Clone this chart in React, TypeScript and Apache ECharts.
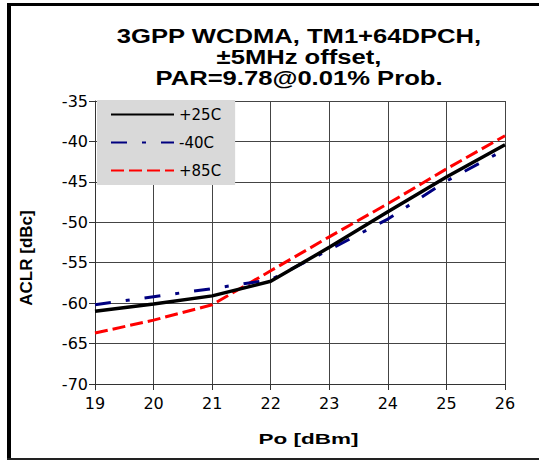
import React, { useEffect, useRef } from "react";
import * as echarts from "echarts";

const xValues = [19, 20, 21, 22, 23, 24, 25, 26];
const p25C = [-61.0, -60.1, -59.1, -57.3, -53.1, -48.7, -44.4, -40.4];
const m40C = [-60.2, -59.2, -58.2, -57.1, -53.4, -49.6, -44.9, -41.0];
const p85C = [-63.7, -62.1, -60.2, -56.0, -51.8, -47.7, -43.4, -39.3];
const seriesNames = ["+25C", "-40C", "+85C"];
const titleLines = ["3GPP WCDMA, TM1+64DPCH,", "±5MHz offset,", "PAR=9.78@0.01% Prob."];
const xAxisTitle = "Po [dBm]";
const yAxisTitle = "ACLR [dBc]";

const FONT = "'Liberation Sans', Arial, Helvetica, sans-serif";
const WIDE = "'DejaVu Sans', 'Liberation Sans', sans-serif";

export default function App() {
  const ref = useRef<HTMLDivElement>(null);
  useEffect(() => {
    document.body.style.margin = "0";
    const chart = echarts.init(ref.current!, null, { renderer: "svg" });
    const pairs = (ys: number[]) => xValues.map((x, i) => [x, ys[i]]);
    chart.setOption({
      animation: false,
      backgroundColor: "#ffffff",
      textStyle: { fontFamily: FONT },
      legend: {
        orient: "vertical",
        left: 97,
        top: 100,
        padding: [7, 14, 7, 13],
        itemGap: 13,
        itemWidth: 63,
        itemHeight: 14,
        backgroundColor: "#d9d9d9",
        borderRadius: 0,
        itemStyle: { opacity: 0 },
        textStyle: { fontFamily: WIDE, fontSize: 15, color: "#000" },
        data: seriesNames,
      },
      grid: { left: 95, top: 101, width: 410, height: 283, containLabel: false },
      xAxis: {
        type: "value",
        min: 19,
        max: 26,
        interval: 1,
        axisLine: { show: true, lineStyle: { color: "#333", width: 1 } },
        axisTick: { show: true, length: 6, lineStyle: { color: "#333" } },
        axisLabel: { fontFamily: WIDE, fontSize: 16, color: "#000", margin: 11 },
        splitLine: { show: true, lineStyle: { color: "#444", width: 1 } },
      },
      yAxis: {
        type: "value",
        min: -70,
        max: -35,
        interval: 5,
        axisLine: { show: true, lineStyle: { color: "#333", width: 1 } },
        axisTick: { show: true, length: 6, lineStyle: { color: "#333" } },
        axisLabel: { fontFamily: WIDE, fontSize: 16, color: "#000", margin: 7 },
        splitLine: { show: true, lineStyle: { color: "#444", width: 1 } },
      },
      graphic: [
        { type: "rect", shape: { x: 7, y: 3, width: 532, height: 3 }, style: { fill: "#000" } },
        { type: "rect", shape: { x: 7, y: 3, width: 4, height: 457 }, style: { fill: "#000" } },
        { type: "rect", shape: { x: 7, y: 458, width: 532, height: 2 }, style: { fill: "#222" } },
        {
          type: "text",
          x: 299,
          y: 25,
          scaleX: 1.22,
          style: {
            text: titleLines.join("\n"),
            x: 0,
            y: 0,
            align: "center",
            verticalAlign: "top",
            fontFamily: FONT,
            fontSize: 21,
            fontWeight: "bold",
            lineHeight: 21,
            fill: "#000",
          },
        },
        {
          type: "text",
          x: 308.5,
          y: 439,
          scaleX: 1.5,
          style: {
            text: xAxisTitle,
            x: 0,
            y: 0,
            align: "center",
            verticalAlign: "middle",
            fontFamily: FONT,
            fontSize: 15,
            fontWeight: "bold",
            fill: "#000",
          },
        },
        {
          type: "text",
          x: 26,
          y: 258,
          rotation: Math.PI / 2,
          style: {
            text: yAxisTitle,
            x: 0,
            y: 0,
            align: "center",
            verticalAlign: "middle",
            fontFamily: FONT,
            fontSize: 17,
            fontWeight: "bold",
            fill: "#000",
          },
        },
      ],
      series: [
        {
          name: seriesNames[0],
          type: "line",
          data: pairs(p25C),
          symbol: "none",
          lineStyle: { color: "#000000", width: 3.5, type: "solid" },
          itemStyle: { color: "#000000" },
          z: 5,
        },
        {
          name: seriesNames[1],
          type: "line",
          data: pairs(m40C),
          symbol: "none",
          lineStyle: { color: "#000080", width: 3, type: [16, 15, 4, 15] },
          itemStyle: { color: "#000080" },
          z: 4,
        },
        {
          name: seriesNames[2],
          type: "line",
          data: pairs(p85C),
          symbol: "none",
          lineStyle: { color: "#ff0000", width: 3, type: [13, 5] },
          itemStyle: { color: "#ff0000" },
          z: 3,
        },
      ],
    });
    return () => chart.dispose();
  }, []);
  return <div ref={ref} style={{ position: "absolute", left: 0, top: 0, width: 539, height: 461 }} />;
}
